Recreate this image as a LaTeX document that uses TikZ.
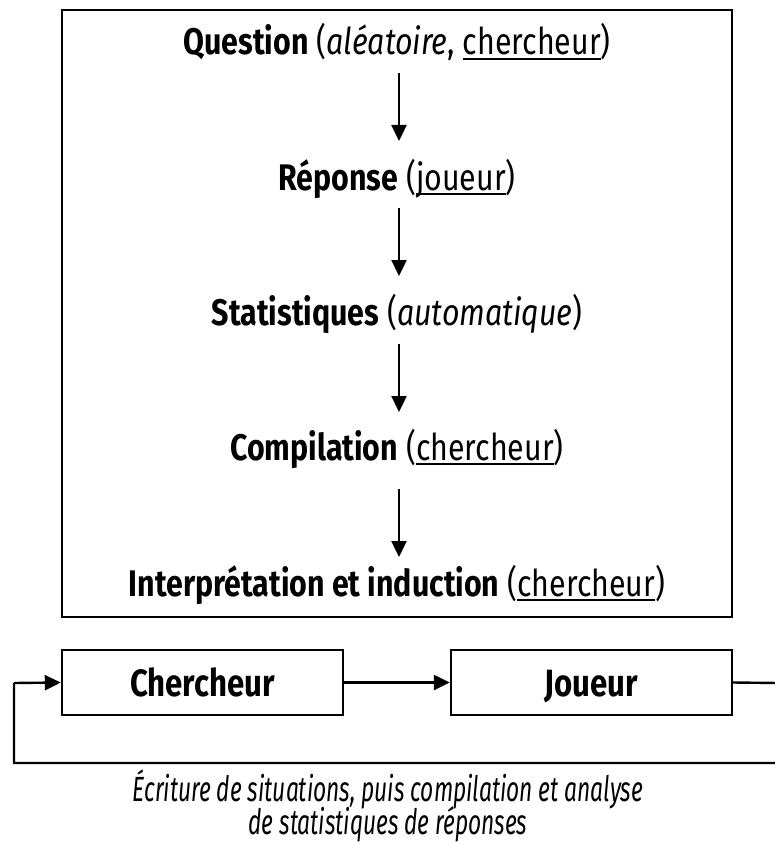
\documentclass[tikz,border=0pt]{standalone}
\usepackage{fontspec}
\setmainfont{Fira Sans}[FakeStretch=0.82]
\newfontfamily\capfont{Fira Sans}[FakeStretch=0.65]
\usetikzlibrary{arrows.meta}
% thick underline sitting a little below the baseline
\newcommand\ulword[1]{\setbox0\hbox{#1}\makebox[0pt][l]{\rule[-5pt]{\wd0}{1.8pt}}\box0}
\begin{document}
\begin{tikzpicture}[x=1pt,y=-1pt,
  line width=2.4pt,
  every node/.style={inner sep=0pt},
  steplabel/.style={anchor=base, font=\fontsize{37}{42}\selectfont},
  flow/.style={-{Triangle[length=16pt,width=15pt]}, line width=2.4pt},
  actor/.style={draw, line width=2.4pt, minimum width=281pt, minimum height=65pt}]
\useasboundingbox (0,0) rectangle (774,845);
% process frame
\draw (62,10) rectangle (732,617);
\node[steplabel] (q) at (397,55) {\textbf{Question} (\textit{aléatoire}, \ulword{chercheur})};
\node[steplabel] (r) at (397,190) {\textbf{Réponse} (\ulword{joueur})};
\node[steplabel] (s) at (397,325) {\textbf{Statistiques} (\textit{automatique})};
\node[steplabel] (c) at (397,460) {\textbf{Compilation} (\ulword{chercheur})};
\node[steplabel] (i) at (397,596) {\textbf{Interprétation et induction} (\ulword{chercheur})};
\coordinate (a1s) at (399,73);  \coordinate (a1e) at (399,141);
\coordinate (a2s) at (399,208); \coordinate (a2e) at (399,276);
\coordinate (a3s) at (399,344); \coordinate (a3e) at (399,412);
\coordinate (a4s) at (399,489); \coordinate (a4e) at (399,557);
\draw[flow] (a1s) -- (a1e);
\draw[flow] (a2s) -- (a2e);
\draw[flow] (a3s) -- (a3e);
\draw[flow] (a4s) -- (a4e);
% actors and the feedback loop
\node[actor] (ch) at (202.5,682.5) {};
\node[actor] (jo) at (591.5,682.5) {};
\node[anchor=base, font=\bfseries\fontsize{38}{42}\selectfont] (cht) at (202.5,696) {Chercheur};
\node[anchor=base, font=\bfseries\fontsize{38}{42}\selectfont] (jot) at (591.5,696) {Joueur};
\draw[flow] (ch.east) -- (jo.west);
\coordinate (re) at (778,683);
\coordinate (rb) at (778,763);
\coordinate (lb) at (14,763);
\coordinate (lt) at (14,683);
\draw (jo.east) -- (re) -- (rb) -- (lb) -- (lt);
\draw[flow] (lt) -- (ch.west);
\node[anchor=base, font=\capfont\itshape\fontsize{35}{35}\selectfont] (cap1) at (388,801)
  {Écriture de situations, puis compilation et analyse};
\node[anchor=base, font=\capfont\itshape\fontsize{35}{35}\selectfont] (cap2) at (388,834)
  {de statistiques de réponses};
\end{tikzpicture}
\end{document}
